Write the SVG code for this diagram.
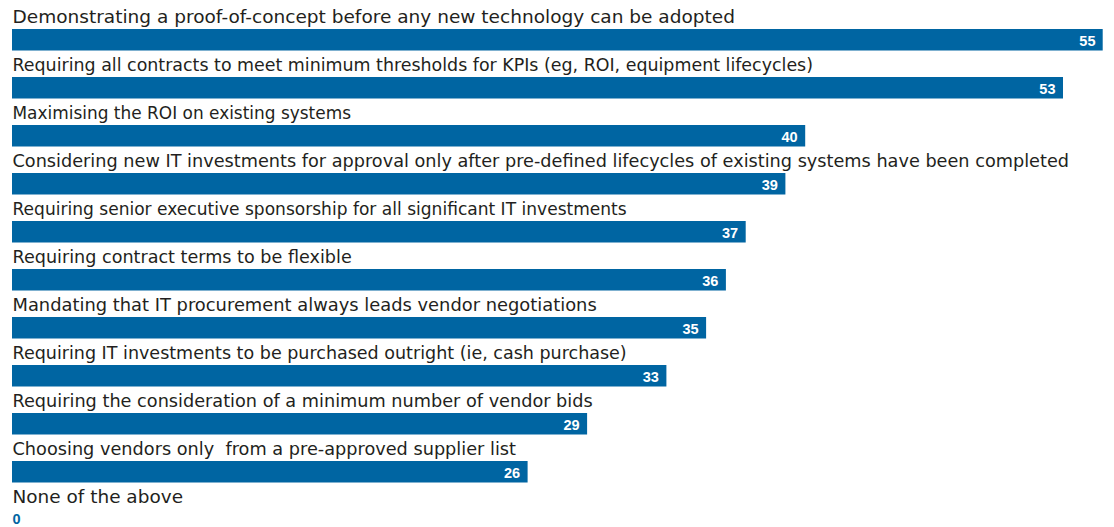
<svg xmlns="http://www.w3.org/2000/svg" width="1114" height="527" viewBox="0 0 1114 527">
<style>
.lbl{font-family:"DejaVu Sans","Liberation Sans",sans-serif;font-size:17px;fill:#231f20}
.bar{fill:#0065a2}
.val{font-family:"Liberation Sans",Arial,sans-serif;font-size:14.5px;font-weight:bold;fill:#ffffff;text-anchor:end}
.val0{font-family:"Liberation Sans",Arial,sans-serif;font-size:14.5px;font-weight:bold;fill:#0065a2}
</style>
<rect width="1114" height="527" fill="#ffffff"/>
<g id="row1">
<text class="lbl" x="12.5" y="22.7" textLength="722.5" lengthAdjust="spacingAndGlyphs">Demonstrating a proof-of-concept before any new technology can be adopted</text>
<rect class="bar" x="12" y="29" width="1090.7" height="21.5"/>
<text class="val" x="1095.5" y="46">55</text>
</g>
<g id="row2">
<text class="lbl" x="12.5" y="70.7" textLength="800.5" lengthAdjust="spacingAndGlyphs">Requiring all contracts to meet minimum thresholds for KPIs (eg, ROI, equipment lifecycles)</text>
<rect class="bar" x="12" y="77" width="1051" height="21.5"/>
<text class="val" x="1055.5" y="94">53</text>
</g>
<g id="row3">
<text class="lbl" x="12.5" y="118.7" textLength="338.5" lengthAdjust="spacingAndGlyphs">Maximising the ROI on existing systems</text>
<rect class="bar" x="12" y="125" width="793.2" height="21.5"/>
<text class="val" x="797.7" y="142">40</text>
</g>
<g id="row4">
<text class="lbl" x="12.5" y="166.7" textLength="1056.5" lengthAdjust="spacingAndGlyphs">Considering new IT investments for approval only after pre-defined lifecycles of existing systems have been completed</text>
<rect class="bar" x="12" y="173" width="773.4" height="21.5"/>
<text class="val" x="777.9" y="190">39</text>
</g>
<g id="row5">
<text class="lbl" x="12.5" y="214.7" textLength="614.2" lengthAdjust="spacingAndGlyphs">Requiring senior executive sponsorship for all significant IT investments</text>
<rect class="bar" x="12" y="221" width="733.7" height="21.5"/>
<text class="val" x="738.2" y="238">37</text>
</g>
<g id="row6">
<text class="lbl" x="12.5" y="262.7" textLength="339.2" lengthAdjust="spacingAndGlyphs">Requiring contract terms to be flexible</text>
<rect class="bar" x="12" y="269" width="713.9" height="21.5"/>
<text class="val" x="718.4" y="286">36</text>
</g>
<g id="row7">
<text class="lbl" x="12.5" y="310.7" textLength="584.2" lengthAdjust="spacingAndGlyphs">Mandating that IT procurement always leads vendor negotiations</text>
<rect class="bar" x="12" y="317" width="694.1" height="21.5"/>
<text class="val" x="698.6" y="334">35</text>
</g>
<g id="row8">
<text class="lbl" x="12.5" y="358.7" textLength="614.2" lengthAdjust="spacingAndGlyphs">Requiring IT investments to be purchased outright (ie, cash purchase)</text>
<rect class="bar" x="12" y="365" width="654.4" height="21.5"/>
<text class="val" x="658.9" y="382">33</text>
</g>
<g id="row9">
<text class="lbl" x="12.5" y="406.7" textLength="580.2" lengthAdjust="spacingAndGlyphs">Requiring the consideration of a minimum number of vendor bids</text>
<rect class="bar" x="12" y="413" width="575.1" height="21.5"/>
<text class="val" x="579.6" y="430">29</text>
</g>
<g id="row10">
<text class="lbl" x="12.5" y="454.7" textLength="503.5" lengthAdjust="spacingAndGlyphs" xml:space="preserve">Choosing vendors only  from a pre-approved supplier list</text>
<rect class="bar" x="12" y="461" width="515.6" height="21.5"/>
<text class="val" x="520.1" y="478">26</text>
</g>
<g id="row11">
<text class="lbl" x="12.5" y="502.7" textLength="170.5" lengthAdjust="spacingAndGlyphs">None of the above</text>
<text class="val0" x="12.5" y="524">0</text>
</g>
<g id="connectors"/>
</svg>
